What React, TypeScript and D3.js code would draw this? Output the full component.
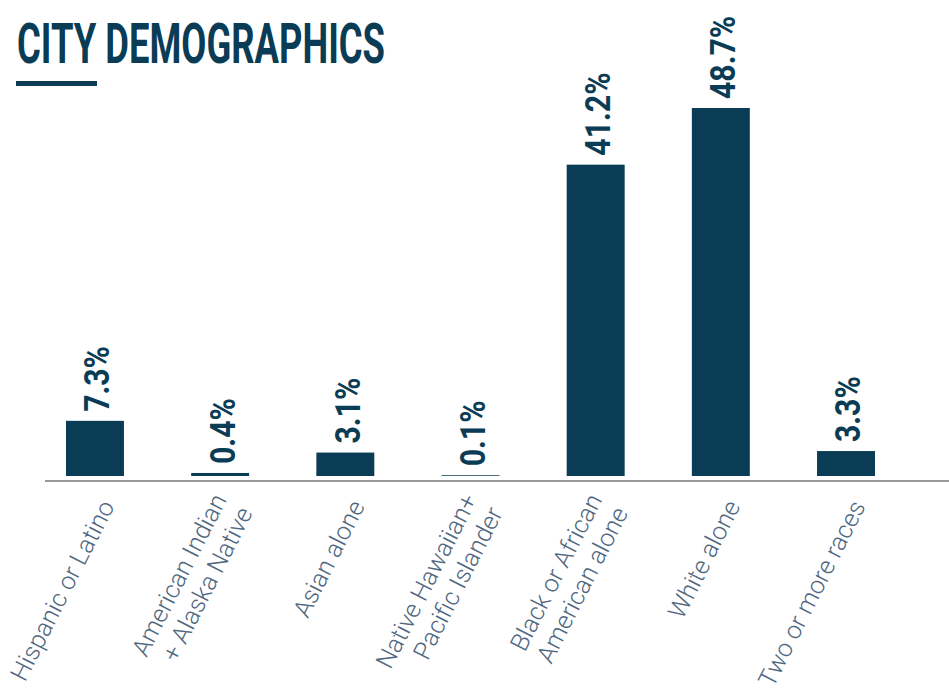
import React from "react";
import * as d3 from "d3";

const categories: string[] = [
  "Hispanic or Latino",
  "American Indian\n+ Alaska Native",
  "Asian alone",
  "Native Hawaiian+\nPacific Islander",
  "Black or African\nAmerican alone",
  "White alone",
  "Two or more races",
];
const values: number[] = [7.3, 0.4, 3.1, 0.1, 41.2, 48.7, 3.3];
const valueLabels: string[] = values.map((v) => `${v.toFixed(1)}%`);
const title = "CITY DEMOGRAPHICS";

const W = 949;
const H = 695;
const DARK = "#0b3c55";
const LABEL_GREY = "#4f6780";

export default function App() {
  const x = d3
    .scaleBand<string>()
    .domain(categories)
    .range([66, 875])
    .paddingInner(0.537)
    .paddingOuter(0);
  const y = d3
    .scaleLinear()
    .domain([0, d3.max(values) as number])
    .range([476, 108]);

  const catFont = 25;
  const lineH = 29;

  return (
    <svg
      width={W}
      height={H}
      style={{ position: "absolute", left: 0, top: 0, background: "#fff" }}
    >
      {/* title */}
      <text
        x={17}
        y={63}
        fontFamily="Roboto, 'Liberation Sans', sans-serif"
        fontWeight={700}
        fontSize={56}
        fill={DARK}
        textLength={368}
        lengthAdjust="spacingAndGlyphs"
      >
        {title}
      </text>
      <rect x={16} y={81} width={81} height={5} fill={DARK} />

      {/* bars */}
      {categories.map((c, i) => (
        <rect
          key={c}
          x={x(c)}
          y={y(values[i])}
          width={x.bandwidth()}
          height={y(0) - y(values[i])}
          fill={DARK}
        />
      ))}

      {/* value labels */}
      {categories.map((c, i) => {
        const cx = (x(c) as number) + x.bandwidth() / 2;
        return (
          <text
            key={c + "-v"}
            transform={`translate(${cx},${y(values[i]) - 9}) rotate(-90) scale(0.84,1)`}
            dy="0.4em"
            textAnchor="start"
            fontFamily="Roboto, 'Liberation Sans', sans-serif"
            fontWeight={700}
            fontSize={36}
            fill={DARK}
          >
            {valueLabels[i]}
          </text>
        );
      })}

      {/* axis line */}
      <line x1={45} x2={W} y1={481} y2={481} stroke="#9a9a9a" strokeWidth={2} />

      {/* category labels */}
      {categories.map((c) => {
        const cx = (x(c) as number) + x.bandwidth() / 2;
        const lines = c.split("\n");
        const n = lines.length;
        return (
          <g key={c + "-c"} transform={`translate(${cx + 12},502) rotate(-63)`}>
            {lines.map((ln, j) => (
              <text
                key={j}
                x={0}
                y={(j - (n - 1) / 2) * lineH + catFont * 0.36}
                textAnchor="end"
                fontFamily="Roboto, 'Liberation Sans', sans-serif"
                fontWeight={300}
                fontSize={catFont}
                fill={LABEL_GREY}
              >
                {ln}
              </text>
            ))}
          </g>
        );
      })}
    </svg>
  );
}
